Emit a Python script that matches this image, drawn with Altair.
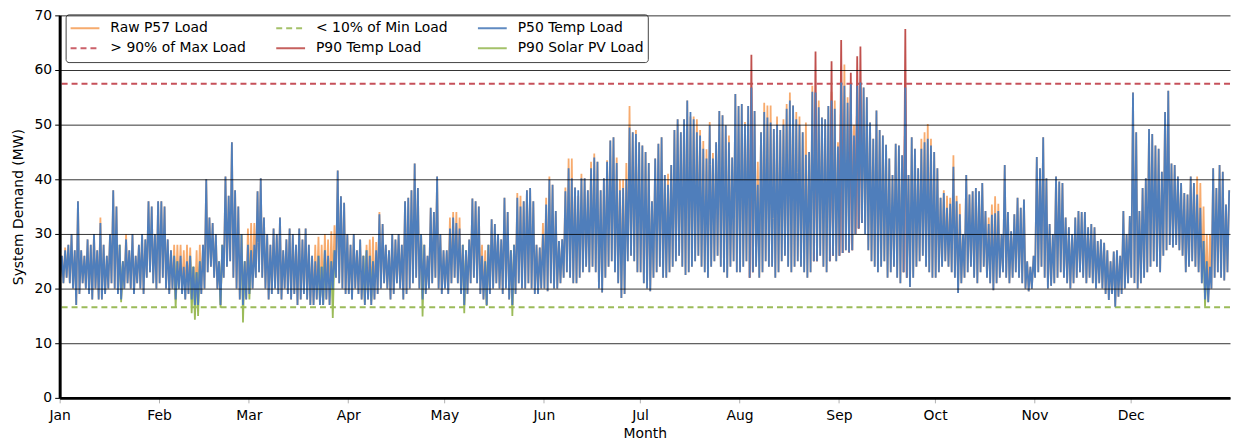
import altair as alt
import pandas as pd

# ---- daily peak / trough of the P50 temperature load (MW) ----
jan_max = [26, 27, 28, 30, 27, 36, 27, 26, 29, 28, 30, 27, 32, 28, 26, 30, 38, 35, 28, 25,
           29, 27, 30, 26, 28, 30, 29, 36, 35, 30, 36]
jan_min = [22, 21, 22, 21, 20, 17, 19, 21, 20, 19, 18, 20, 18, 18, 19, 20, 21, 20, 19, 18,
           20, 21, 20, 19, 21, 20, 19, 22, 23, 21, 20]
feb_max = [36, 35, 29, 27, 26, 25, 26, 24, 25, 26, 24, 23, 25, 28, 40, 33, 32, 30, 25, 28,
           40.5, 37, 46.8, 38, 35, 30, 25, 28]
feb_min = [21, 22, 20, 19, 20, 18, 20, 19, 18, 19, 18, 17, 17, 19, 20, 23, 24, 22, 20, 17,
           22, 24, 25, 22, 20, 18, 17, 18]
mar_max = [27, 28, 37.8, 40.2, 33, 30, 28, 31, 30, 33, 27, 29, 31, 30, 28, 31, 29, 31, 28, 26,
           25, 26, 24, 27, 26, 25, 27, 41.6, 36.9, 35.7, 30]
mar_min = [19, 20, 22, 23, 22, 20, 18, 19, 20, 19, 18, 20, 19, 18, 19, 17, 18, 19, 18, 17,
           17, 18, 17, 17, 18, 17, 20, 22, 21, 20, 19]
apr_max = [28, 30, 27, 29, 26, 27, 26, 25, 27, 33.6, 31.8, 28, 27, 30, 29, 30, 28, 36, 36.6, 38,
           42.9, 38.4, 30, 28, 26, 34.8, 34, 40.5, 30, 27]
apr_min = [19, 18, 20, 19, 18, 17, 18, 17, 18, 19, 20, 21, 20, 18, 19, 21, 20, 18, 19, 20,
           21, 22, 20, 18, 19, 20, 21, 22, 20, 19]
may_max = [27, 31, 33, 32, 31, 28, 27, 29, 36.5, 36, 35, 26, 25, 28, 32.7, 31.8, 30, 29, 36.6, 34,
           27, 28, 36.6, 35, 36, 38, 38.4, 36, 28, 27.5, 30]
may_min = [20, 19, 21, 22, 21, 19, 17, 19, 21, 22, 21, 19, 18, 17, 19, 20, 21, 20, 19, 20,
           18, 17, 19, 21, 20, 20, 21, 20, 19, 19, 20]
jun_max = [35.4, 39.9, 39, 34.2, 28.7, 29, 37.8, 42, 40.2, 38.5, 38, 40.2, 40.2, 38, 42, 44, 43.2,
           38, 40.2, 43.2, 47.1, 47.7, 43, 38, 38.4, 40, 49.5, 48.6, 48.3, 46.8]
jun_min = [20, 19.5, 21, 20, 20, 21, 22, 23, 22, 21, 21, 22, 23, 24, 23, 24, 23, 20, 19.3, 22,
           24, 25, 23, 21, 18.3, 19, 25, 26, 25, 23]
jul_max = [46.2, 45, 43, 36, 43.8, 46.5, 47.7, 40.8, 39, 42.6, 49, 51, 48.6, 51, 54.4, 52.3, 51,
           48.6, 48, 45.6, 43.8, 49.9, 43.8, 46.8, 52.5, 51.7, 49.9, 46.8, 44, 55.6, 53.4]
jul_min = [23, 21, 20, 19.5, 22, 23, 24, 22, 22, 23, 24, 25, 26, 24, 22.5, 23, 24, 25, 26, 24,
           23, 22, 24, 25, 26, 24, 23, 22, 24, 25, 23]
aug_max = [53.8, 50.1, 53.4, 56.8, 52.5, 39, 48.6, 52.3, 51.3, 50.4, 49.2, 50, 49, 50, 52.9, 54.4,
           53.5, 51, 50, 48.6, 44.5, 45, 56, 55.9, 53.2, 51.3, 51, 53.4, 54.4, 52.9, 46]
aug_min = [23, 24, 25, 22, 23, 24, 22, 23, 25, 24, 24, 22, 23, 25, 26, 24, 23, 24, 25, 24,
           23, 22, 23, 25, 25, 26, 24, 23, 25, 26, 25]
sep_max = [57.7, 57.1, 54, 57.4, 48, 57.1, 57.7, 56.8, 55, 50.4, 47.4, 52.6, 49, 48, 46.3, 43.8,
           40.8, 46.5, 46.2, 44.4, 56.8, 40.8, 47.7, 45.6, 42, 45.6, 46.8, 47.4, 46.2, 45]
sep_min = [26, 26.5, 27, 26.6, 27, 30, 31, 32, 30, 27, 25, 24, 23, 24, 25, 22, 23, 24, 22, 21,
           23, 22, 20.3, 22, 24, 25, 26, 24, 23, 22]
oct_max = [42, 36.6, 37.5, 34.8, 35.5, 42.3, 36, 33.6, 30, 40.8, 37.2, 37.8, 38.4, 37.8, 39.3, 34.2,
           31.8, 33.5, 33.8, 34.2, 30, 42.6, 34, 30.5, 33.6, 36.6, 34.8, 36.3, 25, 24, 26]
oct_min = [22, 23, 24, 25, 24, 23, 22, 19.2, 21, 22, 23, 24, 22, 21, 23, 24, 22, 21, 19.7, 21,
           22, 23, 22, 21, 22, 23, 22, 21, 20, 19.5, 20]
nov_max = [44.1, 42, 47.7, 40.2, 31.8, 30, 40.5, 39.6, 39.3, 33, 31.2, 30, 33, 34.2, 34, 34, 31.2,
           31.8, 31.2, 28.7, 29, 28.4, 27, 25, 26.8, 27, 26, 34.2, 30, 33.3]
nov_min = [22, 23, 24, 22, 20, 20.5, 21, 22, 23, 22, 21, 20, 21, 22, 23, 22, 21, 22, 21, 20,
           21, 20, 19, 17.9, 19, 16.7, 18.5, 19, 20, 21]
dec_max = [55.9, 48.6, 34.2, 38.4, 40.2, 49.2, 48.3, 46.2, 45.6, 41.4, 52.3, 56.2, 42.9, 42.6, 40.5,
           39.3, 37.5, 37.2, 40.5, 39.3, 37.2, 34.8, 28.7, 25, 24, 42, 38.4, 42.6, 41.4, 35.4, 38]
dec_min = [22, 21, 20, 21, 22, 23, 24, 25, 24, 23, 26, 27, 28, 27.5, 28, 27, 26, 23, 24, 25,
           24, 23, 21, 18, 17.5, 20, 22, 23, 22, 21.5, 23]

# raw P57 daily peaks where they rise above the P50 curve (day of year -> MW)
raw_peaks = {1: 27.5, 12: 33, 20: 30, 34: 27, 35: 28, 36: 28, 37: 28, 38: 27, 39: 28, 40: 27.5,
             42: 27, 43: 28, 58: 31, 59: 32, 60: 32, 79: 28, 80: 29.5, 81: 28, 82: 30, 83: 29,
             84: 30.5, 85: 31.6, 95: 28, 96: 29, 97: 29.5, 98: 28.5, 99: 34, 121: 33, 122: 34,
             123: 34, 124: 33, 131: 28, 132: 27, 142: 37.5, 143: 37, 150: 32, 151: 36.6,
             152: 40.5, 157: 38.5, 158: 43.8, 159: 43.8, 161: 37, 162: 41, 165: 43.2, 166: 44.7,
             170: 43.5, 173: 44, 174: 40, 175: 40, 176: 43, 177: 53.4, 179: 49, 189: 41,
             196: 51.5, 197: 51.5, 198: 51, 199: 49, 200: 47, 201: 45.5, 202: 50.5, 203: 44.8,
             208: 48, 213: 50.5, 217: 43.2, 219: 54, 220: 53.5, 221: 53.5, 223: 51.5, 225: 51,
             226: 53.8, 227: 55.9, 229: 52.3, 230: 51.5, 232: 50.4, 234: 57.1, 236: 54.4,
             240: 56, 241: 54.4, 242: 46.8, 243: 60.7, 244: 61, 245: 55, 247: 50, 268: 47.4,
             269: 48.6, 270: 50.1, 271: 47.4, 275: 38, 276: 37, 277: 36.6, 278: 44.4, 279: 37,
             280: 35.5, 289: 33, 290: 35.4, 291: 36.9, 292: 35.5, 354: 40.5, 355: 39.3,
             356: 35, 357: 30, 358: 30}
# P90 temperature load spikes above the P50 curve
p90_temp_peaks = {215: 62.8, 235: 63.4, 240: 61.6, 243: 65.5, 246: 59.5, 248: 62.5,
                  249: 64.3, 263: 67.5}
# P90 solar PV load dips below the P50 curve
p90_solar_dips = {19: 17.5, 36: 16.5, 41: 15.5, 42: 14.3, 43: 15, 50: 16.5, 57: 13.8, 59: 18,
                  81: 17.5, 82: 17, 85: 14.6, 95: 17.5, 97: 17.8, 113: 14.9, 126: 15.5,
                  133: 16.8, 141: 15, 357: 16.7}

max_threshold = 57.5   # > 90% of max load
min_threshold = 16.6   # < 10% of min load

series_names = ["Raw P57 Load", "< 10% of Min Load", "P50 Temp Load",
                "> 90% of Max Load", "P90 Temp Load", "P90 Solar PV Load"]
series_colors = ["#F6A25E", "#9BBB59", "#4F7EBB", "#C6505A", "#C0504D", "#9BBB59"]
series_dash = [[1, 0], [6, 4], [1, 0], [6, 4], [1, 0], [1, 0]]

p50_max = (jan_max + feb_max + mar_max + apr_max + may_max + jun_max + jul_max + aug_max
           + sep_max + oct_max + nov_max + dec_max)
p50_min = (jan_min + feb_min + mar_min + apr_min + may_min + jun_min + jul_min + aug_min
           + sep_min + oct_min + nov_min + dec_min)

base = pd.Timestamp("2023-01-01")


def ts(day, hour):
    return (base + pd.Timedelta(days=day, hours=hour)).strftime("%Y-%m-%dT%H:%M:%S")


rows = []
for d in range(365):
    lo, hi = p50_min[d], p50_max[d]
    rows.append({"t": ts(d, 4), "v": lo, "series": "P50 Temp Load", "seg": 0})
    rows.append({"t": ts(d, 17), "v": hi, "series": "P50 Temp Load", "seg": 0})
    rows.append({"t": ts(d, 4), "v": lo, "series": "Raw P57 Load", "seg": 0})
    rows.append({"t": ts(d, 17), "v": raw_peaks.get(d, hi), "series": "Raw P57 Load", "seg": 0})

for d, val in p90_temp_peaks.items():
    rows.append({"t": ts(d, 4), "v": p50_min[d], "series": "P90 Temp Load", "seg": d})
    rows.append({"t": ts(d, 17), "v": val, "series": "P90 Temp Load", "seg": d})
    rows.append({"t": ts(d + 1, 4), "v": p50_min[d + 1], "series": "P90 Temp Load", "seg": d})

for d, val in p90_solar_dips.items():
    rows.append({"t": ts(d - 1, 17), "v": p50_max[d - 1], "series": "P90 Solar PV Load", "seg": d})
    rows.append({"t": ts(d, 4), "v": val, "series": "P90 Solar PV Load", "seg": d})
    rows.append({"t": ts(d, 17), "v": p50_max[d], "series": "P90 Solar PV Load", "seg": d})

df = pd.DataFrame(rows)
df_h = pd.DataFrame({"v": [max_threshold, min_threshold],
                     "series": ["> 90% of Max Load", "< 10% of Min Load"]})

FONT = "DejaVu Sans"

legend = alt.Legend(
    title=None, orient="none", legendX=6, legendY=-1, columns=3, direction="horizontal",
    symbolType="stroke", symbolSize=841, symbolStrokeWidth=2, labelFont=FONT,
    labelFontSize=14, labelColor="black", labelOffset=10, columnPadding=29, rowPadding=0,
    clipHeight=20, padding=4, fillColor="white", strokeColor="#444444", cornerRadius=3,
    gridAlign="each", labelLimit=300,
)
color = alt.Color("series:N", scale=alt.Scale(domain=series_names, range=series_colors),
                  legend=legend)
dash = alt.StrokeDash("series:N", scale=alt.Scale(domain=series_names, range=series_dash),
                      legend=legend)

x_enc = alt.X(
    "t:T",
    scale=alt.Scale(domain=[alt.DateTime(year=2023, month=1, date=1),
                            alt.DateTime(year=2023, month=12, date=31, hours=23)], nice=False),
    axis=alt.Axis(
        values=[alt.DateTime(year=2023, month=m, date=1) for m in range(1, 13)],
        format="%b", grid=False, tickColor="#b0b0b0", tickSize=5, labelFont=FONT,
        labelFontSize=14, labelColor="black", labelPadding=6, labelFlush=False,
        labelOverlap=False, title="Month", titleFont=FONT, titleFontSize=14,
        titleFontWeight="normal", titleColor="black", titlePadding=4,
        domainColor="black", domainWidth=3, zindex=1,
    ),
)
y_scale = alt.Scale(domain=[0, 70], nice=False)
y_axis = alt.Axis(
    values=list(range(0, 71, 10)), grid=True, gridColor="black", gridWidth=1,
    gridOpacity=0.8, tickColor="black", tickSize=5, labelFont=FONT, labelFontSize=14,
    labelColor="black", labelPadding=3, title="System Demand (MW)", titleFont=FONT,
    titleFontSize=14, titleFontWeight="normal", titleColor="black", titlePadding=9,
    domainColor="black", domainWidth=3, zindex=1,
)
y_enc = alt.Y("v:Q", scale=y_scale, axis=y_axis)

base_chart = alt.Chart(df)

raw_layer = base_chart.transform_filter(alt.datum.series == "Raw P57 Load").mark_line(
    strokeWidth=1.8, opacity=0.9).encode(x=x_enc, y=y_enc, color=color, strokeDash=dash)

rule_layer = alt.Chart(df_h).mark_rule(strokeWidth=2).encode(
    y=y_enc, color=color, strokeDash=dash)

red_layer = base_chart.transform_filter(alt.datum.series == "P90 Temp Load").mark_line(
    strokeWidth=1.8).encode(x=x_enc, y=y_enc, color=color, strokeDash=dash, detail="seg:N")

green_layer = base_chart.transform_filter(alt.datum.series == "P90 Solar PV Load").mark_line(
    strokeWidth=1.8).encode(x=x_enc, y=y_enc, color=color, strokeDash=dash, detail="seg:N")

blue_layer = base_chart.transform_filter(alt.datum.series == "P50 Temp Load").mark_line(
    strokeWidth=1.8).encode(x=x_enc, y=y_enc, color=color, strokeDash=dash)

chart = alt.layer(raw_layer, rule_layer, red_layer, green_layer, blue_layer).properties(
    width=1178, height=385,
    autosize=alt.AutoSizeParams(type="none"),
    padding={"left": 52, "top": 6, "right": 1, "bottom": 43},
).configure_view(strokeWidth=0)

chart.save("out.html", embed_options={"renderer": "svg", "actions": False})
